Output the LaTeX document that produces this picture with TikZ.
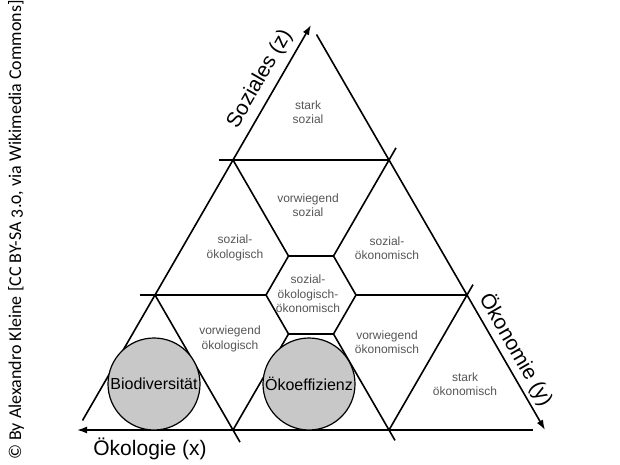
\documentclass[tikz,border=0pt]{standalone}
\usepackage{fontspec}
\setmainfont{Liberation Sans}
\newfontfamily\crfont[Numbers=OldStyle]{Carlito}
\usetikzlibrary{arrows.meta}
\definecolor{regc}{RGB}{85,85,85}
\definecolor{circc}{RGB}{200,200,200}
\tikzset{
  gl/.style={line width=1.6pt, line cap=butt},
  axisarrow/.style={line width=1.6pt, -{Latex[length=10pt,width=7pt]}},
  reg/.style={font=\fontsize{12}{14.5}\selectfont, text=regc, align=center, inner sep=0pt},
  circ/.style={draw, fill=circc, line width=1.2pt, circle, minimum size=92pt, inner sep=0pt,
               font=\fontsize{16}{18}\selectfont},
  axlab/.style={font=\fontsize{21}{24}\selectfont, inner sep=0pt}
}
\begin{document}
\begin{tikzpicture}[x=1pt,y=-1pt]
\useasboundingbox (0,0) rectangle (620,465);
% main vertices
\coordinate (A) at (77,430);
\coordinate (B) at (545,430);
\coordinate (C) at (311,25);
% grid points
\coordinate (P1) at (155,295);
\coordinate (P2) at (233,160);
\coordinate (Q1) at (467,295);
\coordinate (Q2) at (389,160);
\coordinate (R1) at (233,430);
\coordinate (R2) at (389,430);
% hexagon
\coordinate (G) at (311,295);
\path (G) ++(0:45) coordinate (H0)
      (G) ++(-60:45) coordinate (H60)
      (G) ++(-120:45) coordinate (H120)
      (G) ++(180:45) coordinate (H180)
      (G) ++(120:45) coordinate (H240)
      (G) ++(60:45) coordinate (H300);
% inner lines
\draw[gl, shorten >=-14pt] (Q2) -- (P2);
\draw[gl, shorten >=-15pt] (H180) -- (P1);
\draw[gl] (Q1) -- (H0);
\draw[gl, shorten >=-12pt] (R2) -- (Q1);
\draw[gl, shorten >=-14pt] (H60) -- (Q2);
\draw[gl] (R1) -- (H240);
\draw[gl, shorten >=-14pt] (P1) -- (R1);
\draw[gl, shorten >=-12pt] (H300) -- (R2);
\draw[gl] (P2) -- (H120);
\draw[gl, line join=miter] (H0) -- (H60) -- (H120) -- (H180) -- (H240) -- (H300) -- cycle;
% axes
\draw[axisarrow, shorten <=11pt] (A) -- (C);
\draw[axisarrow, shorten <=11pt] (C) -- (B);
\draw[axisarrow, shorten <=12pt] (B) -- (A);
% circles
\node[circ] (bio) at (154,384) {Biodiversität};
\node[circ] (oeko) at (309,384) {Ökoeffizienz};
% region labels
\node[reg] (t1) at (308,112) {stark\\sozial};
\node[reg] (t2) at (308,205) {vorwiegend\\sozial};
\node[reg] (t3) at (235,248) {sozial-\\ökologisch};
\node[reg] (t4) at (387,248) {sozial-\\ökonomisch};
\node[reg] (t5) at (308,294) {sozial-\\ökologisch-\\ökonomisch};
\node[reg] (t6) at (230,339) {vorwiegend\\ökologisch};
\node[reg] (t7) at (387,342) {vorwiegend\\ökonomisch};
\node[reg] (t8) at (465,384) {stark\\ökonomisch};
% axis labels
\node[axlab, rotate=60] (lz) at (260,79) {Soziales (z)};
\node[axlab, rotate=-60] (ly) at (516,350) {Ökonomie (y)};
\node[axlab] (lx) at (150,449) {Ökologie (x)};
% credit
\node[rotate=90, inner sep=0pt, font=\crfont\fontsize{18}{20}\selectfont] (cr) at (16,230)
  {© By Alexandro Kleine [CC BY-SA 3.0, via Wikimedia Commons]};
\end{tikzpicture}
\end{document}
